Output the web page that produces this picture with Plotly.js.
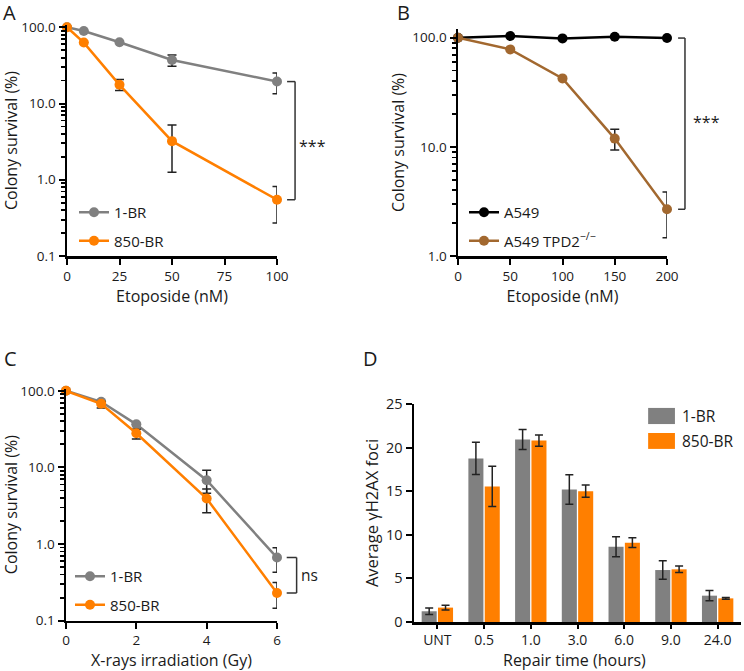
<!DOCTYPE html>
<html>
<head>
<meta charset="utf-8">
<script src="https://cdn.plot.ly/plotly-3.0.1.min.js"></script>
<style>html,body{margin:0;padding:0;background:#fff}#chart{width:744px;height:671px}</style>
</head>
<body>
<div id="chart"></div>
<script>
// ---------- Data ----------
// Panel A: etoposide survival, 1-BR vs 850-BR
const dosesA = [0, 8, 25, 50, 100];
const survA_1BR = [100, 89.5, 63.6, 37.3, 19.4];
const errA_1BR_plus = [0, 0, 0, 6.1, 5.8];
const errA_1BR_minus = [0, 0, 0, 6.5, 6.0];
const survA_850 = [100, 63, 17.6, 3.21, 0.547];
const errA_850_plus = [0, 0, 3.0, 2.0, 0.27];
const errA_850_minus = [0, 0, 2.8, 1.96, 0.277];

// Panel B: etoposide survival, A549 vs A549 TPD2-/-
const dosesB = [0, 50, 100, 150, 200];
const survB_A549 = [100, 103.6, 98.6, 102, 99.3];
const survB_TPD2 = [100, 78.2, 42.4, 11.9, 2.68];
const errB_TPD2_plus = [0, 0, 0, 2.6, 1.18];
const errB_TPD2_minus = [0, 0, 0, 2.55, 1.21];

// Panel C: X-ray survival
const dosesC = [0, 1, 2, 4, 6];
const survC_1BR = [100, 71.8, 36.5, 6.8, 0.667];
const errC_1BR_plus = [0, 0, 0, 2.4, 0.23];
const errC_1BR_minus = [0, 0, 0, 2.2, 0.237];
const survC_850 = [100, 67.6, 27.9, 3.93, 0.23];
const errC_850_plus = [0, 5, 3.7, 1.32, 0.085];
const errC_850_minus = [0, 7.8, 4.4, 1.37, 0.085];

// Panel D: foci
const repairTimes = ['UNT', '0.5', '1.0', '3.0', '6.0', '9.0', '24.0'];
const foci_1BR = [1.23, 18.76, 20.94, 15.2, 8.64, 5.96, 3.02];
const fociErr_1BR = [0.38, 1.85, 1.15, 1.7, 1.15, 1.05, 0.58];
const foci_850 = [1.65, 15.55, 20.8, 15.0, 9.1, 6.04, 2.71];
const fociErr_850 = [0.28, 2.3, 0.65, 0.7, 0.55, 0.37, 0.1];

// Tick labels
const logTickVals = [0.1, 1, 10, 100];
const logTickText = ['0.1', '1.0', '10.0', '100.0'];
const logMinor = [];
[0.1, 1, 10].forEach(d => { for (let k = 2; k <= 9; k++) logMinor.push(d * k); });

// ---------- Style ----------
const GRAY = '#808080', ORANGE = '#FF7F00', BROWN = '#A2682F', BLACK = '#000000';
const FONT = 'Open Sans, DejaVu Sans, sans-serif';
const TXT = '#1a1a1a';
const W = 744, H = 671;
const px = v => v / W;
const py = v => 1 - v / H;

function errObj(plus, minus) {
  return {type: 'data', symmetric: false, array: plus, arrayminus: minus,
          color: '#222', thickness: 1.5, width: 4.5, visible: true};
}
function lineTrace(x, y, name, color, xa, ya, legend, err) {
  const t = {x: x, y: y, name: name, type: 'scatter', mode: 'lines+markers',
    xaxis: xa, yaxis: ya, legend: legend, legendgroup: name + legend,
    line: {color: color, width: 2.5}, marker: {color: color, size: 10},
    cliponaxis: false};
  if (err) t.error_y = err;
  return t;
}

const traces = [
  lineTrace(dosesA, survA_1BR, '1-BR', GRAY, 'x', 'y', 'legend', errObj(errA_1BR_plus, errA_1BR_minus)),
  lineTrace(dosesA, survA_850, '850-BR', ORANGE, 'x', 'y', 'legend', errObj(errA_850_plus, errA_850_minus)),
  lineTrace(dosesB, survB_A549, 'A549', BLACK, 'x2', 'y2', 'legend2', null),
  lineTrace(dosesB, survB_TPD2, 'A549 TPD2<sup>−/−</sup>', BROWN, 'x2', 'y2', 'legend2', errObj(errB_TPD2_plus, errB_TPD2_minus)),
  lineTrace(dosesC, survC_1BR, '1-BR', GRAY, 'x3', 'y3', 'legend3', errObj(errC_1BR_plus, errC_1BR_minus)),
  lineTrace(dosesC, survC_850, '850-BR', ORANGE, 'x3', 'y3', 'legend3', errObj(errC_850_plus, errC_850_minus)),
  {x: repairTimes, y: foci_1BR, name: '1-BR', type: 'bar', xaxis: 'x4', yaxis: 'y4', showlegend: false,
   marker: {color: GRAY, line: {width: 0}},
   error_y: {type: 'data', array: fociErr_1BR, color: '#222', thickness: 1.5, width: 4}},
  {x: repairTimes, y: foci_850, name: '850-BR', type: 'bar', xaxis: 'x4', yaxis: 'y4', showlegend: false,
   marker: {color: ORANGE, line: {width: 0}},
   error_y: {type: 'data', array: fociErr_850, color: '#222', thickness: 1.5, width: 4}}
];

const axisBase = {showline: true, linecolor: '#000', linewidth: 2.5, ticks: 'outside', ticklen: 6,
  tickwidth: 2, tickcolor: '#000', showgrid: false, zeroline: false,
  tickfont: {family: FONT, size: 13.5, color: TXT}, fixedrange: true};
const titleFont = {family: FONT, size: 16, color: TXT};
const titleFontD = {family: FONT, size: 16.5, color: TXT};
const tickFontD = {family: FONT, size: 14.5, color: TXT};

function logAxis(domain, range, anchor) {
  return Object.assign({}, axisBase, {type: 'log', domain: domain, range: range, anchor: anchor,
    tickmode: 'array', tickvals: logTickVals, ticktext: logTickText,
    minor: {tickmode: 'array', tickvals: logMinor, ticks: 'outside', ticklen: 3.5, tickwidth: 1.8, tickcolor: '#000'},
    title: {text: 'Colony survival (%)', font: titleFont, standoff: 4}});
}

const L = Math.log10;
// shapes on log axes take data values; annotations take log10 values
const bracket = (xr, yr, xa, xb, ytop, ybot) => [
  {type: 'line', xref: xr, yref: yr, x0: xa, x1: xb, y0: ytop, y1: ytop, line: {color: '#333', width: 1.5}},
  {type: 'line', xref: xr, yref: yr, x0: xb, x1: xb, y0: ytop, y1: ybot, line: {color: '#333', width: 1.5}},
  {type: 'line', xref: xr, yref: yr, x0: xa, x1: xb, y0: ybot, y1: ybot, line: {color: '#333', width: 1.5}}
];
const midLog = (a, b) => (L(a) + L(b)) / 2;

const legendBase = {font: {family: FONT, size: 15, color: TXT}, bgcolor: 'rgba(0,0,0,0)', borderwidth: 0,
  xanchor: 'left', yanchor: 'top', traceorder: 'grouped', tracegroupgap: 6, itemclick: false};

const annText = (text, x, y, size) => ({text: text, x: x, y: y, xref: 'paper', yref: 'paper',
  showarrow: false, xanchor: 'center', yanchor: 'middle', font: {family: FONT, size: size, color: TXT}});

const layout = {
  width: W, height: H, margin: {l: 0, r: 0, t: 0, b: 0}, paper_bgcolor: '#fff', plot_bgcolor: '#fff',
  showlegend: true, bargap: 0.3, bargroupgap: 0.08, barmode: 'group',
  xaxis: Object.assign({}, axisBase, {domain: [px(67), px(277)], range: [0, 100], anchor: 'y',
    tickvals: [0, 25, 50, 75, 100], title: {text: 'Etoposide (nM)', font: titleFont, standoff: 2}}),
  yaxis: logAxis([py(256), py(25)], [-1, 2.03], 'x'),
  xaxis2: Object.assign({}, axisBase, {domain: [px(458), px(667)], range: [0, 200], anchor: 'y2',
    tickvals: [0, 50, 100, 150, 200], title: {text: 'Etoposide (nM)', font: titleFont, standoff: 2}}),
  yaxis2: Object.assign(logAxis([py(256), py(29)], [0, 2.08], 'x2'), {tickvals: [1, 10, 100], ticktext: ['1.0', '10.0', '100.0'],
    minor: {tickmode: 'array', tickvals: logMinor.filter(v => v > 1), ticks: 'outside', ticklen: 3.5, tickwidth: 1.8, tickcolor: '#000'}}),
  xaxis3: Object.assign({}, axisBase, {domain: [px(66), px(277)], range: [0, 6], anchor: 'y3',
    tickvals: [0, 2, 4, 6], title: {text: 'X-rays irradiation (Gy)', font: titleFont, standoff: 2}}),
  yaxis3: logAxis([py(620.7), py(388.5)], [-1, 2.03], 'x3'),
  xaxis4: Object.assign({}, axisBase, {domain: [px(414), px(741)], type: 'category', range: [-0.5, 6.5], anchor: 'y4',
    tickfont: {family: FONT, size: 14, color: TXT}, ticklen: 4}),
  yaxis4: Object.assign({}, axisBase, {domain: [py(622), py(404)], range: [0, 25], anchor: 'x4',
    tickfont: tickFontD,
    tickvals: [0, 5, 10, 15, 20, 25], title: {text: 'Average γH2AX foci', font: titleFontD, standoff: 3}}),
  legend: Object.assign({}, legendBase, {x: px(74), y: py(196)}),
  legend2: Object.assign({}, legendBase, {x: px(464), y: py(196)}),
  legend3: Object.assign({}, legendBase, {x: px(70), y: py(560)}),
  shapes: [].concat(
    bracket('x domain', 'y', 1.048, 1.086, survA_1BR[4], survA_850[4]),
    bracket('x2 domain', 'y2', 1.053, 1.086, survB_A549[4], survB_TPD2[4]),
    bracket('x3 domain', 'y3', 1.046, 1.093, survC_1BR[4], survC_850[4]),
    [
      {type: 'rect', xref: 'x4 domain', yref: 'y4 domain', x0: 0.716, x1: 0.798, y0: 0.908, y1: 0.982, fillcolor: GRAY, line: {width: 0}},
      {type: 'rect', xref: 'x4 domain', yref: 'y4 domain', x0: 0.716, x1: 0.798, y0: 0.794, y1: 0.867, fillcolor: ORANGE, line: {width: 0}}
    ]),
  annotations: [
    annText('A', px(9), py(13), 20),
    annText('B', px(403), py(13), 20),
    annText('C', px(10), py(358), 20),
    annText('D', px(370), py(358), 20),
    {text: 'Repair time (hours)', xref: 'x4 domain', yref: 'paper', x: 0.492, y: py(660), showarrow: false,
     xanchor: 'center', yanchor: 'middle', borderpad: 0, font: {family: FONT, size: 16, color: TXT}},
    {text: '***', xref: 'x domain', yref: 'y', x: 1.17, y: midLog(survA_1BR[4], survA_850[4]), showarrow: false,
     xanchor: 'center', yanchor: 'middle', yshift: -5, font: {family: FONT, size: 16, color: TXT}},
    {text: '***', xref: 'x2 domain', yref: 'y2', x: 1.187, y: midLog(survB_A549[4], survB_TPD2[4]), showarrow: false,
     xanchor: 'center', yanchor: 'middle', yshift: 2, font: {family: FONT, size: 16, color: TXT}},
    {text: 'ns', xref: 'x3 domain', yref: 'y3', x: 1.156, y: midLog(survC_1BR[4], survC_850[4]), showarrow: false,
     xanchor: 'center', yanchor: 'middle', font: {family: FONT, size: 15.5, color: TXT}},
    {text: '1-BR', xref: 'x4 domain', yref: 'y4 domain', x: 0.813, y: 0.945, showarrow: false,
     xanchor: 'left', yanchor: 'middle', font: {family: FONT, size: 15.5, color: TXT}},
    {text: '850-BR', xref: 'x4 domain', yref: 'y4 domain', x: 0.813, y: 0.830, showarrow: false,
     xanchor: 'left', yanchor: 'middle', font: {family: FONT, size: 15.5, color: TXT}}
  ]
};

Plotly.newPlot('chart', traces, layout, {displayModeBar: false, staticPlot: true});
</script>
</body>
</html>
